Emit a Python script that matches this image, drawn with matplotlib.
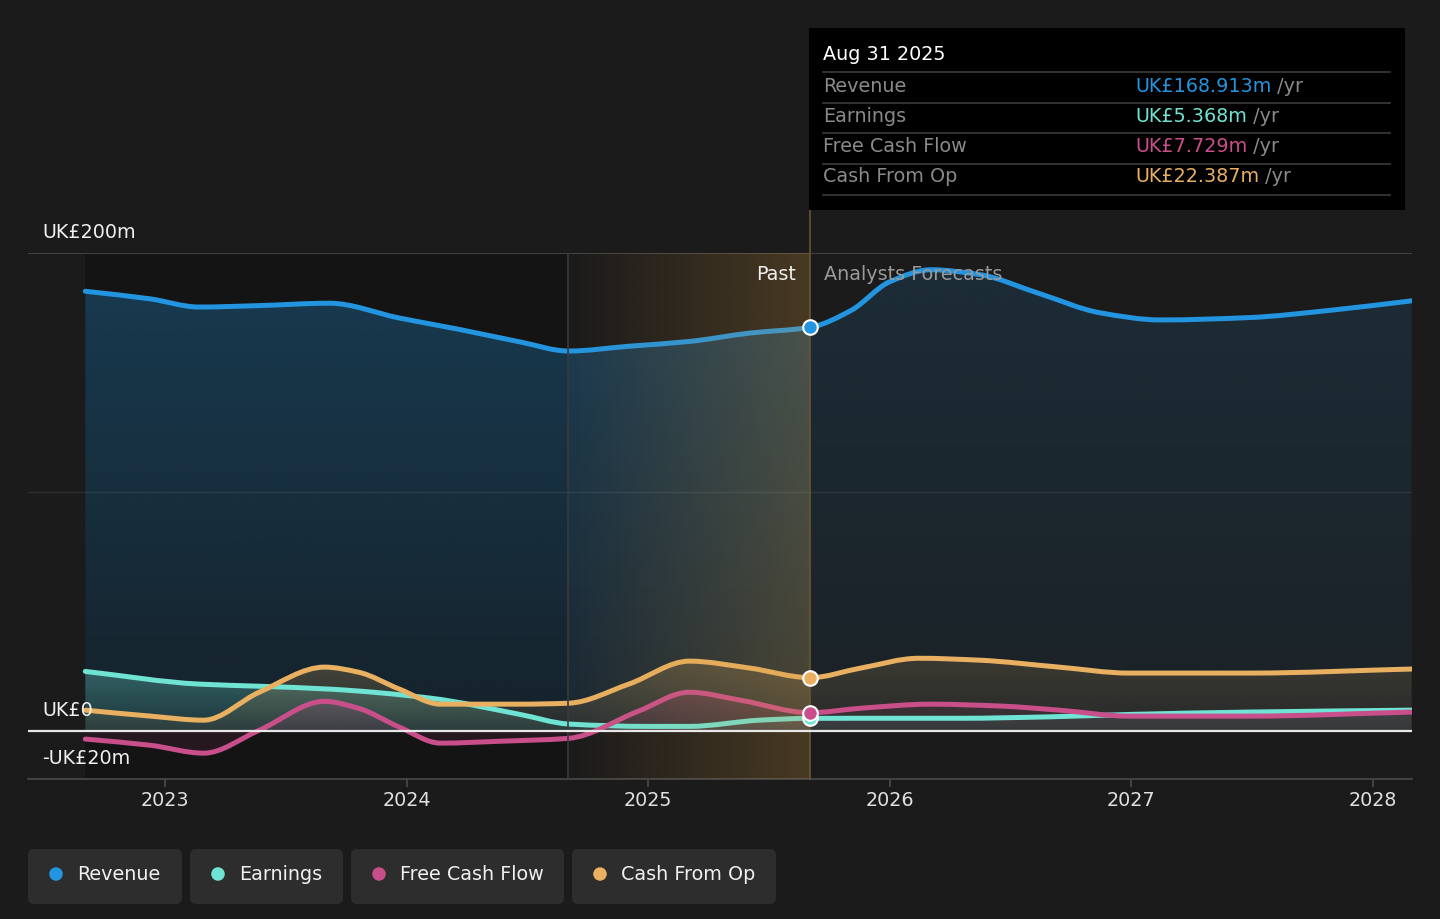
import matplotlib
matplotlib.use("Agg")
import matplotlib.pyplot as plt
import numpy as np
from matplotlib.path import Path
from matplotlib.patches import PathPatch, FancyBboxPatch, Rectangle
from matplotlib.colors import to_rgb

# ---------------- data (UK£ m, x in fractional years) ----------------
rev_x = [2022.67, 2022.94, 2023.14, 2023.39, 2023.68, 2023.97, 2024.22, 2024.47, 2024.67,
         2024.92, 2025.17, 2025.42, 2025.67, 2025.84, 2026.00, 2026.17, 2026.37, 2026.62,
         2026.87, 2027.12, 2027.49, 2027.82, 2028.16]
rev_y = [184.0, 180.8, 177.4, 178.0, 179.0, 172.8, 168.0, 162.8, 159.0,
         161.0, 163.0, 166.5, 168.913, 176.0, 188.0, 193.0, 191.0, 183.0,
         175.0, 172.0, 173.0, 176.0, 180.0]

earn_x = [2022.67, 2023.14, 2023.39, 2023.68, 2024.10, 2024.47, 2024.67, 2025.00, 2025.17,
          2025.46, 2025.67, 2026.00, 2026.29, 2026.66, 2026.99, 2027.49, 2028.16]
earn_y = [25.0, 19.7, 18.8, 17.6, 13.8, 7.0, 3.0, 2.0, 2.0,
          4.6, 5.368, 5.4, 5.4, 6.0, 7.0, 8.0, 8.8]

fcf_x = [2022.67, 2022.94, 2023.16, 2023.39, 2023.66, 2023.80, 2023.97, 2024.14, 2024.39,
         2024.67, 2024.96, 2025.17, 2025.38, 2025.67, 2025.88, 2026.17, 2026.46, 2026.70,
         2026.99, 2027.49, 2028.16]
fcf_y = [-3.3, -5.9, -9.2, 0.4, 12.5, 9.6, 1.7, -5.0, -4.2,
         -3.0, 8.4, 16.3, 13.0, 7.729, 9.6, 11.3, 10.5, 8.8,
         6.3, 6.3, 8.0]

cfo_x = [2022.67, 2022.94, 2023.16, 2023.39, 2023.66, 2023.80, 2023.97, 2024.14, 2024.47,
         2024.67, 2024.92, 2025.17, 2025.42, 2025.67, 2025.88, 2026.12, 2026.37, 2026.70,
         2026.99, 2027.49, 2028.16]
cfo_y = [8.8, 6.3, 4.6, 16.3, 26.8, 24.7, 17.6, 11.3, 11.3,
         11.7, 19.7, 29.3, 26.4, 22.387, 26.4, 30.5, 29.7, 26.8,
         24.3, 24.3, 26.0]

series_names = ["Revenue", "Earnings", "Free Cash Flow", "Cash From Op"]
series_colors = ["#2394df", "#6fe3d4", "#c94f8b", "#e8b060"]
tooltip_values = ["UK£168.913m", "UK£5.368m", "UK£7.729m", "UK£22.387m"]
tooltip_date = "Aug 31 2025"

year_ticks = [2023, 2024, 2025, 2026, 2027, 2028]
year_labels = ["2023", "2024", "2025", "2026", "2027", "2028"]
y_ticks = [200, 0, -20]
y_labels = ["UK£200m", "UK£0", "-UK£20m"]

past_start = 2024.67
divider = 2025.67

FS = 13.8

# ---------------- figure ----------------
W, H = 1440, 919
BG = "#1b1b1b"
fig = plt.figure(figsize=(W / 100, H / 100), dpi=100)
fig.patch.set_facecolor(BG)

def fx(x): return x / W
def fy(y): return 1 - y / H

ax = fig.add_axes([fx(28), fy(779), (1412 - 28) / W, (779 - 253) / H])
ax.set_facecolor("none")
px_per_year = (1373 - 165) / 5.0
x_lo = 2023 + (28 - 165) / px_per_year
x_hi = 2023 + (1412 - 165) / px_per_year
ax.set_xlim(x_lo, x_hi)
ax.set_ylim(-20, 200)
for s in ["top", "left", "right"]:
    ax.spines[s].set_visible(False)
ax.spines["bottom"].set_color("#4a4a4a")
ax.spines["bottom"].set_linewidth(1.2)
ax.set_yticks([])
ax.set_xticks(year_ticks)
ax.set_xticklabels(year_labels)
ax.tick_params(axis="x", colors="#4a4a4a", length=6, width=1.2, labelcolor="#e0e0e0",
               labelsize=FS, pad=3)

# past dark region
ax.add_patch(Rectangle((rev_x[0], -20), past_start - rev_x[0], 220, facecolor="#141414",
                       edgecolor="none", zorder=0))

# grid lines
ax.axhline(200, color="#4a4a4a", lw=1.2, zorder=1)
ax.axhline(100, color="#8a9aa8", alpha=0.16, lw=1.0, zorder=6)


def mono_path(x, y):
    x = np.asarray(x, float); y = np.asarray(y, float)
    n = len(x); dx = np.diff(x); d = np.diff(y) / dx
    m = np.zeros(n)
    m[0] = d[0]; m[-1] = d[-1]
    for i in range(1, n - 1):
        if d[i - 1] * d[i] <= 0:
            m[i] = 0.0
        else:
            w1 = 2 * dx[i] + dx[i - 1]; w2 = dx[i] + 2 * dx[i - 1]
            m[i] = (w1 + w2) / (w1 / d[i - 1] + w2 / d[i])
    verts = [(x[0], y[0])]; codes = [Path.MOVETO]
    for i in range(n - 1):
        h = dx[i] / 3
        verts += [(x[i] + h, y[i] + m[i] * h), (x[i + 1] - h, y[i + 1] - m[i + 1] * h),
                  (x[i + 1], y[i + 1])]
        codes += [Path.CURVE4] * 3
    return verts, codes


def grad_img(color, ymax, ymin, a_top, a_bot):
    rgb = np.array(to_rgb(color))
    nrow = 256
    img = np.zeros((nrow, 2, 4))
    vals = np.linspace(ymax, ymin, nrow)
    span = max(ymax, 1e-6)
    for i, v in enumerate(vals):
        a = a_bot + (a_top - a_bot) * (v / span) if v >= 0 else a_bot
        img[i, :, :3] = rgb
        img[i, :, 3] = a
    return img


def draw_series(x, y, color, past_a, fut_a, z):
    verts, codes = mono_path(x, y)
    fverts = verts + [(x[-1], 0), (x[0], 0), (x[0], y[0])]
    fcodes = codes + [Path.LINETO, Path.LINETO, Path.CLOSEPOLY]
    fpatch = PathPatch(Path(fverts, fcodes), facecolor="none", edgecolor="none",
                       transform=ax.transData)
    ax.add_patch(fpatch)
    ymax = max(max(y), 0); ymin = min(min(y), 0)
    for (xa, xb), (at, ab) in [((x[0], divider), past_a), ((divider, x[-1]), fut_a)]:
        im = ax.imshow(grad_img(color, ymax, ymin, at, ab), extent=[xa, xb, ymin, ymax],
                       aspect="auto", interpolation="bilinear", zorder=z, origin="upper")
        im.set_clip_path(fpatch)
    ax.add_patch(PathPatch(Path(verts, codes), facecolor="none", edgecolor=color,
                           lw=3.6, zorder=z + 5, capstyle="round", joinstyle="round"))


draw_series(rev_x, rev_y, series_colors[0], (0.30, 0.11), (0.14, 0.06), 2)
draw_series(earn_x, earn_y, series_colors[1], (0.32, 0.10), (0.14, 0.08), 3)
draw_series(cfo_x, cfo_y, series_colors[3], (0.24, 0.07), (0.16, 0.06), 3)
draw_series(fcf_x, fcf_y, series_colors[2], (0.22, 0.10), (0.12, 0.06), 3)

ax.set_xlim(x_lo, x_hi)
ax.set_ylim(-20, 200)

# highlight of the last past year (gradient, drawn over lines)
grad = np.zeros((2, 256, 4))
grad[:, :, :3] = np.array(to_rgb("#d8993a"))
grad[:, :, 3] = np.linspace(0.0, 0.24, 256)[None, :]
ax.imshow(grad, extent=[past_start, divider, -20, 200], aspect="auto", zorder=12,
          interpolation="bilinear")
ax.set_xlim(x_lo, x_hi)
ax.set_ylim(-20, 200)

ax.axvline(past_start, color="#3a3a3a", lw=1.2, zorder=13)
ax.axvline(divider, ymin=0, ymax=(779 - 210) / (779 - 253), color="#6b5530", lw=1.2,
           zorder=13, clip_on=False)

# zero line
ax.axhline(0, color="#e8e8e8", lw=1.6, zorder=14)

# markers at divider
marker_vals = [rev_y[rev_x.index(divider)], earn_y[earn_x.index(divider)],
               fcf_y[fcf_x.index(divider)], cfo_y[cfo_x.index(divider)]]
order = [1, 3, 2, 0]
for i in order:
    ax.scatter([divider], [marker_vals[i]], s=110, color=series_colors[i], edgecolor="white",
               linewidth=1.5, zorder=20, clip_on=False)

# y labels
ytr = ax.get_yaxis_transform()
for v, lab in zip(y_ticks, y_labels):
    ax.annotate(lab, xy=(14 / 1384, v), xycoords=ytr, xytext=(0, 11),
                textcoords="offset pixels", color="#f0f0f0", fontsize=FS,
                ha="left", va="bottom", zorder=25)

# Past / Analysts Forecasts
ax.annotate("Past", xy=(divider, 191.2), xytext=(-14, 0), textcoords="offset pixels",
            color="#f0f0f0", fontsize=FS, ha="right", va="center", zorder=25)
ax.annotate("Analysts Forecasts", xy=(divider, 191.2), xytext=(14, 0),
            textcoords="offset pixels", color="#9a9a9a", fontsize=FS, ha="left",
            va="center", zorder=25)

# ---------------- overlay (pixel coordinates) ----------------
ov = fig.add_axes([0, 0, 1, 1], zorder=30)
ov.set_xlim(0, W); ov.set_ylim(H, 0)
ov.axis("off")
ov.patch.set_alpha(0)

# tooltip
ov.add_patch(Rectangle((809, 28), 1405 - 809, 210 - 28, facecolor="#000000", edgecolor="none"))
ov.text(823, 55, tooltip_date, color="#ffffff", fontsize=FS, va="center", ha="left")
for yl in [72, 103, 133, 164, 195]:
    ov.plot([823, 1390], [yl, yl], color="#3c3c3c", lw=1.2)
row_y = [86, 116, 147, 177]
for name, val, col, ry in zip(series_names, tooltip_values, series_colors, row_y):
    ov.text(823, ry, name, color="#8a8a8a", fontsize=FS, va="center", ha="left")
    t = ov.text(1135, ry, val, color=col, fontsize=FS, va="center", ha="left")
    ov.annotate(" /yr", xycoords=t, xy=(1, 0.5), va="center", ha="left",
                color="#8a8a8a", fontsize=FS)

# legend
boxes = [(28, 182), (190, 343), (351, 564), (572, 776)]
for (x0, x1), name, col in zip(boxes, series_names, series_colors):
    ov.add_patch(FancyBboxPatch((x0, 849), x1 - x0, 55,
                                boxstyle="round,pad=0,rounding_size=6",
                                facecolor="#2d2d2d", edgecolor="none"))
    ov.scatter([x0 + 28], [874], s=95, color=col, edgecolor="none")
    ov.text(x0 + 49, 874, name, color="#f0f0f0", fontsize=FS, va="center", ha="left")

fig.savefig("out.png", dpi=100, facecolor=BG)
